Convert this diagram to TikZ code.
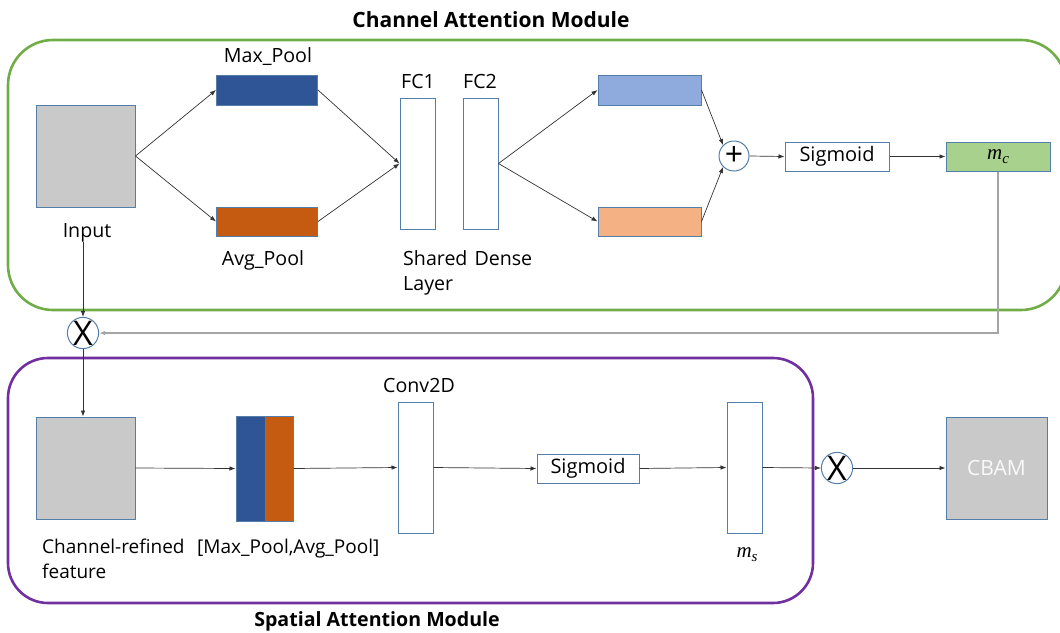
\documentclass[tikz,border=0pt]{standalone}
\usepackage{fontspec}
\setmainfont{Open Sans}
\newfontfamily\mfam{Liberation Serif}
\usetikzlibrary{arrows.meta}
\definecolor{bord}{RGB}{84,126,170}
\definecolor{gframe}{RGB}{112,173,71}
\definecolor{pframe}{RGB}{112,48,160}
\definecolor{dblue}{RGB}{47,85,151}
\definecolor{dorange}{RGB}{197,90,17}
\definecolor{lblue}{RGB}{143,170,220}
\definecolor{peach}{RGB}{244,177,131}
\definecolor{lgreen}{RGB}{169,209,142}
\definecolor{fgray}{RGB}{201,201,201}
\definecolor{fback}{RGB}{165,165,165}
\newcommand{\mvar}[2]{{\mfam\itshape\fontsize{21}{21}\selectfont #1\raisebox{-4pt}{\fontsize{15}{15}\selectfont #2}}}
\begin{document}
\begin{tikzpicture}[x=1pt,y=-1pt,
  box/.style={draw=bord,line width=1pt,inner sep=0pt,anchor=center,font=\fontsize{20}{24}\selectfont},
  lbl/.style={inner sep=0pt,font=\fontsize{19.6}{24}\selectfont,anchor=base},
  ttl/.style={inner sep=0pt,font=\fontsize{21}{24}\selectfont\bfseries,anchor=base},
  opc/.style={circle,draw=bord,line width=1pt,fill=white,minimum size=30pt,inner sep=0pt},
  arr/.style={-{Latex[length=6pt,width=4.5pt]},line width=0.7pt,draw=black!80},
  fb/.style={-{Latex[length=6pt,width=4.5pt]},line width=1.4pt,draw=fback}
]
\useasboundingbox (0,0) rectangle (1060,632);
% frames
\draw[gframe,line width=2.6pt,rounded corners=45pt] (8,40) rectangle (1066,310);
\draw[pframe,line width=2.6pt,rounded corners=40pt] (8,358) rectangle (813,603);
\node[ttl] (t1) at (491,27) {Channel Attention Module};
\node[ttl,font=\fontsize{19.6}{24}\selectfont\bfseries] (t2) at (377,626) {Spatial Attention Module};
% channel attention
\node[box,fill=fgray,minimum width=99pt,minimum height=102pt] (inp) at (85.5,156) {};
\node[lbl] (inpl) at (87,237) {Input};
\node[box,fill=dblue,minimum width=101pt,minimum height=30pt] (maxp) at (267,90) {};
\node[lbl] (maxl) at (268,62) {Max\_Pool};
\node[box,fill=dorange,minimum width=101pt,minimum height=29pt] (avgp) at (267,221.5) {};
\node[lbl] (avgl) at (263,265) {Avg\_Pool};
\node[box,fill=white,minimum width=35pt,minimum height=131pt] (fc1) at (417.5,163.5) {};
\node[box,fill=white,minimum width=35pt,minimum height=131pt] (fc2) at (480.5,163.5) {};
\node[lbl] (fc1l) at (418,88) {FC1};
\node[lbl] (fc2l) at (480,88) {FC2};
\node[lbl,anchor=base west] (sdl) at (403,265) {Shared\hspace{7pt}Dense};
\node[lbl,anchor=base west] (sdl2) at (403,290) {Layer};
\node[box,fill=lblue,minimum width=103pt,minimum height=30pt] (lb) at (649.5,90) {};
\node[box,fill=peach,minimum width=103pt,minimum height=29pt] (pe) at (649.5,221.5) {};
\node[opc,font=\fontsize{32}{32}\selectfont] (plus) at (734,156) {\raisebox{1pt}{+}};
\node[box,fill=white,minimum width=104pt,minimum height=29pt] (sig1) at (837,156.5) {Sigmoid};
\node[box,fill=lgreen,minimum width=104pt,minimum height=29pt] (mc) at (998,156.5) {\mvar{m}{c}};
\draw[arr] (inp.east) -- (maxp.west);
\draw[arr] (inp.east) -- (avgp.west);
\draw[arr] (maxp.east) -- (fc1.west);
\draw[arr] (avgp.east) -- (fc1.west);
\draw[arr] (fc2.east) -- (lb.west);
\draw[arr] (fc2.east) -- (pe.west);
\draw[arr] (lb.east) -- (plus.north west);
\draw[arr] (pe.east) -- (plus.south west);
\draw[arr] (plus.east) -- (sig1.west);
\draw[arr] (sig1.east) -- (mc.west);
% multiply 1
\node[opc,font=\fontsize{34}{34}\selectfont] (x1) at (83,333) {X};
\draw[fb] (mc.south) |- (x1.east);
\draw[arr] (x1.north |- inpl.south) -- (x1.north);
% spatial attention
\node[box,fill=fgray,minimum width=99pt,minimum height=102pt] (cr) at (85.5,468) {};
\draw[arr] (x1.south) -- (x1.south |- cr.north);
\node[lbl,anchor=base west,font=\fontsize{19}{24}\selectfont] (crl) at (42,553) {Channel-refined};
\node[lbl,anchor=base west,font=\fontsize{19}{24}\selectfont] (crl2) at (42,578) {feature};
\node[box,fill=dblue,minimum width=29pt,minimum height=105pt] (catb) at (250.5,468.5) {};
\node[box,fill=dorange,minimum width=28pt,minimum height=105pt] (cato) at (279,468.5) {};
\node[lbl,anchor=base west,font=\fontsize{19}{24}\selectfont] (catl) at (197,553) {[Max\_Pool,Avg\_Pool]};
\node[box,fill=white,minimum width=35pt,minimum height=131pt] (conv) at (415.5,467.5) {};
\node[lbl] (convl) at (419,392) {Conv2D};
\node[box,fill=white,minimum width=102pt,minimum height=29pt] (sig2) at (588,468.5) {Sigmoid};
\node[box,fill=white,minimum width=35pt,minimum height=131pt] (ms) at (744.5,467.5) {};
\node[lbl] (msl) at (747,557) {\mvar{m}{s}};
\node[opc,font=\fontsize{34}{34}\selectfont] (x2) at (837,468) {X};
\node[box,fill=fgray,minimum width=101pt,minimum height=102pt,text=white!95!gray,font=\fontsize{21}{24}\selectfont] (cbam) at (996.5,468) {CBAM};
\draw[arr] (cr.east) -- (catb.west);
\draw[arr] (cato.east) -- (conv.west);
\draw[arr] (conv.east) -- (sig2.west);
\draw[arr] (sig2.east) -- (ms.west);
\draw[arr] (ms.east) -- (x2.west);
\draw[arr] (x2.east) -- (cbam.west);
\end{tikzpicture}
\end{document}
